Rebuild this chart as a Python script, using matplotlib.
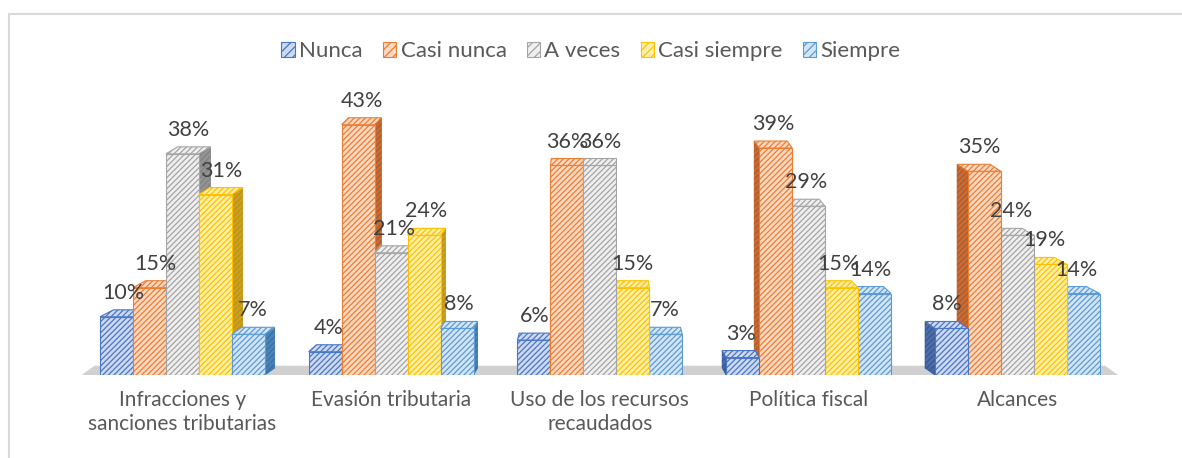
import numpy as np
import matplotlib.pyplot as plt
from matplotlib.patches import Patch, Rectangle

plt.rcParams['font.family'] = ['Lato', 'DejaVu Sans']
plt.rcParams['hatch.linewidth'] = 0.9

# data (percent)
categories = ['Infracciones y\nsanciones tributarias', 'Evasión tributaria',
              'Uso de los recursos\nrecaudados', 'Política fiscal', 'Alcances']
series = ['Nunca', 'Casi nunca', 'A veces', 'Casi siempre', 'Siempre']
nunca = [10, 4, 6, 3, 8]
casi_nunca = [15, 43, 36, 39, 35]
a_veces = [38, 21, 36, 29, 24]
casi_siempre = [31, 24, 15, 15, 19]
siempre = [7, 8, 7, 14, 14]
values = [nunca, casi_nunca, a_veces, casi_siempre, siempre]

# face, hatch/edge, side colours
faces = ['#cdd9f0', '#fcd9c2', '#efefef', '#fff0a8', '#d3e5f5']
edges = ['#4a76c6', '#ed7d31', '#a5a5a5', '#ffc000', '#5b9bd5']
sides = ['#2f5597', '#b85418', '#7f7f7f', '#c09000', '#2e6ea8']

fig = plt.figure(figsize=(11.82, 4.58), dpi=100)
ax = fig.add_axes([0.066, 0.1812, 0.883, 0.6354])
ax.set_xlim(-0.5, 4.5)
ax.set_ylim(0, 50)

w = 0.158
dy = 1.2           # depth offset (data units)
x = np.arange(len(categories))

# floor
ax.fill([-0.5, 4.5, 4.42, -0.42], [-0.45, -0.45, 1.6, 1.6],
        color='#d0d0d0', zorder=0, lw=0)

for i, vals in enumerate(values):
    xs = x + (i - 2) * w
    for xc, v in zip(xs, vals):
        dx = -(xc - 2) * 0.028
        z = 10 - abs(xc - 2)
        ax.bar(xc, v, w, color=faces[i], edgecolor=edges[i], hatch='//////',
               lw=0.8, zorder=z)
        # top face
        ax.fill([xc - w/2, xc + w/2, xc + w/2 + dx, xc - w/2 + dx],
                [v, v, v + dy, v + dy], facecolor=faces[i], edgecolor=edges[i],
                hatch='//////', lw=0.8, zorder=z)
        # side face
        sx = xc + w/2 if dx > 0 else xc - w/2
        ax.fill([sx, sx, sx + dx, sx + dx], [0, v, v + dy, dy],
                facecolor=sides[i], edgecolor=sides[i], hatch='//////',
                lw=0.6, alpha=0.85, zorder=z - 0.01)
        ax.text(xc + dx/2, v + dy + 1.2, f'{v}%', ha='center', va='bottom',
                fontsize=15.5, color='#404040', zorder=20)

ax.set_xticks(x)
ax.set_xticklabels(categories, fontsize=15, color='#595959', linespacing=1.25)
ax.tick_params(axis='x', length=0, pad=11)
ax.set_yticks([])
for s in ax.spines.values():
    s.set_visible(False)
ax.patch.set_alpha(0)

handles = [Patch(facecolor=faces[i], edgecolor=edges[i], hatch='////', lw=0.8)
           for i in range(5)]
fig.legend(handles, series, loc='center', bbox_to_anchor=(0.5, 0.888), ncol=5,
           frameon=False, fontsize=16, handlelength=0.6, handleheight=0.6,
           handletextpad=0.2, columnspacing=0.9, labelcolor='#595959')

# outer chart frame
fig.patches.append(Rectangle((9/1182, -0.1), 1.2, 1.1 - 14/458,
                             transform=fig.transFigure, fill=False,
                             edgecolor='#d9d9d9', lw=1.5))

fig.savefig('out.png', dpi=100)
